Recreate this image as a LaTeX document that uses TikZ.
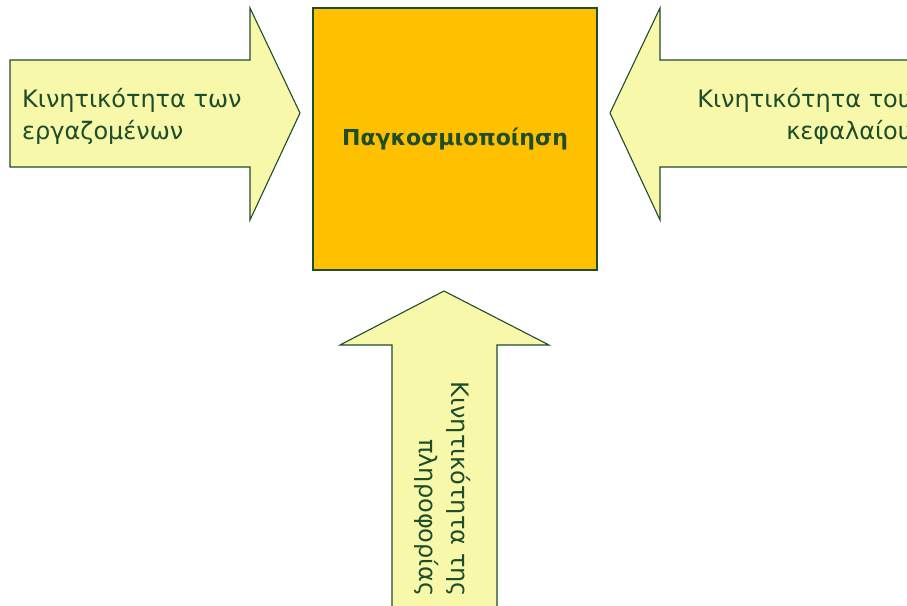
\documentclass[tikz,border=0pt]{standalone}
\usepackage{fontspec}
\setmainfont{DejaVu Sans}
\usetikzlibrary{positioning}
\definecolor{arrowfill}{HTML}{F7F8AA}
\definecolor{darkgreen}{HTML}{1E4D2B}
\definecolor{globeorange}{HTML}{FFC000}

\begin{document}
\begin{tikzpicture}[x=1pt, y=-1pt,
    flow/.style = {draw=darkgreen, line width=1.1pt, fill=arrowfill, line join=miter},
    core/.style = {draw=darkgreen, line width=1.1pt, fill=globeorange, minimum width=284pt, minimum height=262pt, inner sep=0pt, text=darkgreen, font=\bfseries\fontsize{22}{30}\selectfont},
    caption/.style = {inner sep=0pt, text=darkgreen, font=\fontsize{24}{32}\selectfont}]
    \useasboundingbox (0,0) rectangle (907,605);
    \begin{scope}
        \clip (0,0) rectangle (907,605);
        % block arrows
        \draw[flow] (10,60) -- (250,60) -- (250,8) -- (300,113) -- (250,220) -- (250,167) -- (10,167) -- cycle;
        \draw[flow] (920,60) -- (660,60) -- (660,8) -- (610,113) -- (660,220) -- (660,167) -- (920,167) -- cycle;
        \draw[flow] (392,620) -- (392,345) -- (340,345) -- (444,291) -- (549,345) -- (497,345) -- (497,620) -- cycle;

        \node[core] at (455,139) (G) {Παγκοσμιοποίηση};

        \node[caption, anchor=west, align=left] at (22,116) (W) {Κινητικότητα των\\εργαζομένων};
        \node[caption, anchor=east, align=right] at (912,116) (C) {Κινητικότητα του\\κεφαλαίου};
        \node[caption, anchor=east, align=right, rotate=-90] at (443,597) (I) {Κινητικότητα της\\πληροφορίας};
    \end{scope}
\end{tikzpicture}
\end{document}
